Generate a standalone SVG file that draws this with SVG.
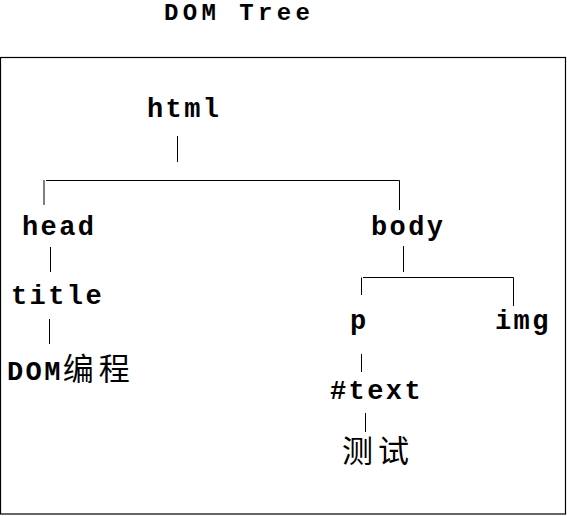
<svg xmlns="http://www.w3.org/2000/svg" width="567" height="516" viewBox="0 0 567 516">
<style>
.m{font-family:"Liberation Mono","Courier New",monospace;font-weight:bold;font-size:27px;letter-spacing:2.4px;fill:#000}
.t{font-size:24px;letter-spacing:4.4px}
.c{font-family:"Noto Sans CJK SC",sans-serif;font-weight:normal;font-size:31px;letter-spacing:5px}
.ln{stroke:#000;stroke-width:1;fill:none}
</style>
<rect width="567" height="516" fill="#fff"/>
<text class="m t" x="164" y="20">DOM Tree</text>
<rect x="0.5" y="57.5" width="565" height="456.5" fill="none" stroke="#000" stroke-width="1.2"/>
<g id="connectors" class="ln">
<path d="M177.5 136V162"/>
<path d="M44 180V205"/>
<path d="M46 180.5H399.5V210"/>
<path d="M50.5 247V272"/>
<path d="M49.5 319V344"/>
<path d="M403.5 246V272"/>
<path d="M361.5 277.5V295"/>
<path d="M363 277.5H513.5V306"/>
<path d="M361.5 354V372"/>
<path d="M365.5 413V432"/>
</g>
<g id="html"><text class="m" x="147" y="117">html</text></g>
<g id="head"><text class="m" x="22" y="235">head</text></g>
<g id="title"><text class="m" x="11" y="304">title</text></g>
<g id="title-text"><text class="m" x="7" y="380">DOM<tspan class="c">编程</tspan></text></g>
<g id="body"><text class="m" x="371" y="235">body</text></g>
<g id="p"><text class="m" x="350" y="329">p</text></g>
<g id="img"><text class="m" x="495" y="329">img</text></g>
<g id="text"><text class="m" x="330" y="399">#text</text></g>
<g id="text-value"><text class="m" x="342" y="462"><tspan class="c">测试</tspan></text></g>
</svg>
